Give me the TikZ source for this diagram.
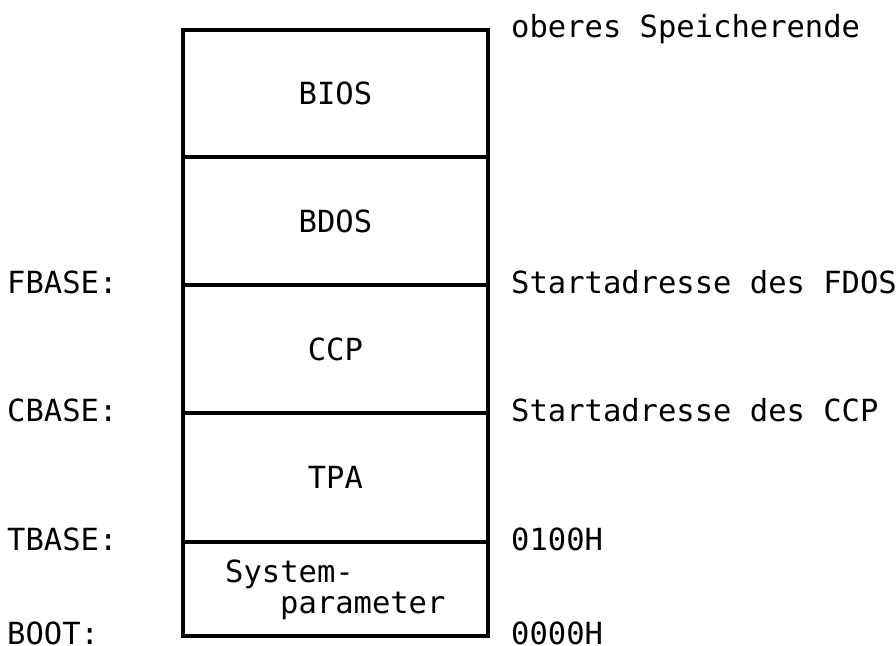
\documentclass[tikz,border=0pt]{standalone}
\usepackage{fontspec}
\newfontfamily\monofnt{DejaVu Sans Mono}
\begin{document}
\begin{tikzpicture}[x=1pt,y=-1pt,
  cell/.style={draw, line width=3.8pt, minimum width=305pt, inner sep=0pt, anchor=north west, font=\monofnt\fontsize{30.5}{34}\selectfont},
  lbl/.style={font=\monofnt\fontsize{30.5}{34}\selectfont, anchor=base west, inner sep=0pt}]
\useasboundingbox (0,0) rectangle (896,645);
\node[cell, minimum height=127pt] (bios) at (181,28) {BIOS};
\node[cell, minimum height=128pt] (bdos) at (181,155) {BDOS};
\node[cell, minimum height=128pt] (ccp) at (181,283) {CCP};
\node[cell, minimum height=129pt] (tpa) at (181,411) {TPA};
\node[cell, minimum height=94pt] (sys) at (181,540) {};
\node[lbl] (sys1) at (225,582) {System-};
\node[lbl] (sys2) at (280,613) {parameter};
\node[lbl] (top) at (511,37) {oberes Speicherende};
\node[lbl] (fbase) at (7,293) {FBASE:};
\node[lbl] (fdos) at (511,293) {Startadresse des FDOS};
\node[lbl] (cbase) at (7,421) {CBASE:};
\node[lbl] (ccpa) at (511,421) {Startadresse des CCP};
\node[lbl] (tbase) at (7,550) {TBASE:};
\node[lbl] (h100) at (511,550) {0100H};
\node[lbl] (boot) at (7,644) {BOOT:};
\node[lbl] (h0) at (511,644) {0000H};
\end{tikzpicture}
\end{document}
